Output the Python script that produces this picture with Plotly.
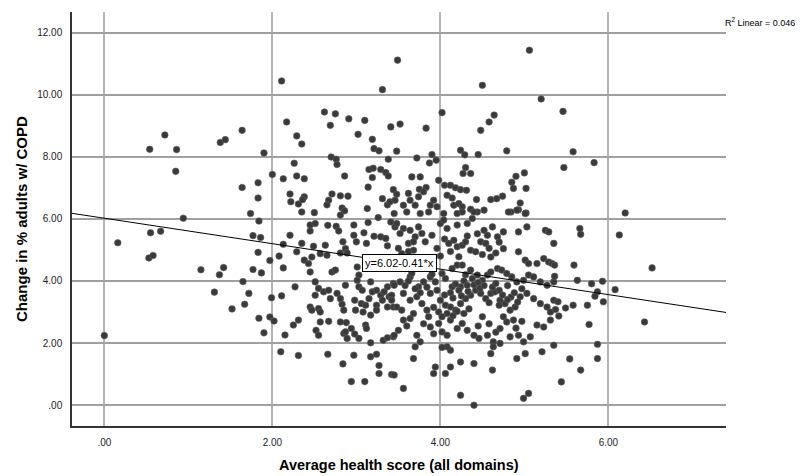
import plotly.graph_objects as go

# Scatter data: (average health score, change in % adults w/ COPD)
health_score = [
 0.72,0.54,0.86,0.85,1.38,1.44,
 2.11,3.31,2.62,2.75,2.91,3.10,2.17,2.69,1.64,3.41,3.02,2.29,2.35,3.19,1.90,3.21,3.27,2.70,2.76,2.77,3.38,2.26,3.15,3.20,3.29,3.35,3.38,2.00,2.86,1.64,1.83,2.13,2.29,2.38,3.19,3.14,1.83,2.21,2.22,2.31,2.38,2.36,2.71,2.67,2.65,2.81,2.90,2.83,2.86,3.13,3.31,3.37,3.40,3.44,1.74,2.35,2.50,
 3.49,5.06,4.50,5.20,4.02,3.52,3.83,4.64,4.58,4.48,3.48,3.72,3.90,3.95,3.87,4.24,4.29,4.45,4.79,4.30,4.27,4.36,3.66,3.76,3.98,3.83,3.75,4.05,4.12,4.18,4.24,4.31,5.00,4.90,4.85,4.87,5.02,4.43,4.60,4.67,4.74,4.95,4.84,4.93,5.02,
 3.48,3.46,3.56,3.62,3.64,3.70,3.74,3.80,3.88,3.92,3.96,4.08,4.14,4.16,4.22,4.26,4.36,4.44,
 5.46,5.58,5.47,5.83,6.20,
 0.94,0.55,0.67,0.16,0.53,0.58,1.15,1.42,1.37,1.31,1.52,0.00,
 1.84,1.77,1.86,1.83,1.97,2.08,2.13,2.21,1.77,1.87,2.13,1.65,1.72,1.67,1.99,2.11,1.84,1.97,2.02,1.90,2.15,2.27,2.25,2.31,2.10,2.31,2.66,2.84,2.94,3.10,
 2.45,2.51,2.45,2.66,2.76,2.79,2.97,3.14,2.81,3.26,3.41,3.46,2.97,3.00,3.09,3.12,3.21,3.29,3.35,3.37,
 2.35,2.49,2.63,2.65,2.29,2.38,2.43,2.45,2.47,2.57,2.84,2.87,2.81,2.89,2.71,2.75,3.01,3.03,3.01,2.87,3.03,3.07,3.17,
 2.51,2.55,2.61,2.67,2.69,2.77,2.81,2.51,2.45,2.47,2.55,2.57,2.57,2.67,2.52,2.55,2.83,2.85,2.81,2.88,2.85,2.89,2.87,2.94,2.98,3.03,
 2.98,2.99,3.06,3.08,3.11,3.12,2.97,3.17,3.24,3.27,3.27,3.42,3.44,3.32,3.37,3.17,
 3.19,3.24,3.29,3.33,3.37,3.39,3.42,3.44,3.31,3.24,3.37,3.44,3.15,3.11,3.17,3.24,
 3.45,3.60,3.76,3.86,4.04,4.20,4.26,4.40,4.52,4.81,4.91,5.01,
 3.48,3.56,3.52,3.64,3.70,3.74,3.78,3.82,3.90,4.00,4.04,4.08,4.20,4.32,4.38,4.52,4.56,4.62,4.68,4.75,4.93,5.03,5.25,5.29,5.35,
 4.10,4.16,4.20,4.26,4.30,4.36,4.42,4.48,4.54,4.60,4.75,4.93,5.01,5.05,5.15,5.23,5.29,3.62,3.68,3.54,3.60,3.68,
 3.88,3.94,4.02,4.06,4.14,4.20,4.26,4.38,4.44,4.50,4.56,4.60,4.68,4.73,4.79,4.85,4.91,4.99,5.05,5.11,5.19,5.27,5.35,4.32,4.24,4.14,3.80,3.74,3.52,3.45,3.64,
 4.00,4.06,4.12,4.18,4.24,4.30,4.36,4.42,4.48,4.54,4.60,4.65,4.71,4.77,4.83,4.89,4.95,5.03,5.11,5.19,5.27,5.31,5.35,3.56,3.64,3.72,3.78,3.84,3.88,3.96,3.48,3.42,3.54,
 4.08,4.12,4.20,4.26,4.32,4.40,4.46,3.88,3.98,4.02,4.08,3.64,3.56,3.50,3.45,3.72,3.76,3.70,4.56,4.63,4.71,4.79,4.87,4.93,4.99,5.07,5.15,5.23,5.31,5.35,4.83,
 4.12,4.08,4.02,3.94,3.92,4.06,4.12,4.24,4.40,4.60,4.63,4.71,4.62,4.91,5.01,5.21,3.68,3.45,3.56,4.24,4.40,4.99,5.05,
 5.66,5.67,6.13,5.33,5.36,5.59,6.52,5.36,5.63,5.80,5.93,6.08,5.87,5.84,5.94,5.40,5.37,5.41,5.49,5.58,5.75,5.77,6.43,5.87,5.54,5.87,5.67,5.44,
 # points inside the dense central blobs
 4.12,4.18,4.22,4.28,4.33,4.40,4.45,4.47,4.52,4.30,4.36,4.05,4.15,4.25,
 4.62,4.66,4.70,4.74,4.80,4.84,4.88,4.92,4.97,4.70,4.58,4.80,
 3.98,4.02,4.15,4.20,4.28,4.34,3.92,
 3.58,3.62,3.70,3.76,3.84,3.90,3.66,3.58,3.78,
 3.96,4.00,4.05,4.12,4.22,4.32,4.44,4.50,4.58,4.66,4.70,
 3.60,3.68,3.80,3.86,3.92,
 4.45,4.50,4.58,4.66,4.75,4.90,4.97,
 3.45,3.50,3.62,
]

copd_change = [
 8.70,8.24,8.23,7.53,8.46,8.55,
 10.44,10.16,9.44,9.38,9.22,9.17,9.12,9.01,8.85,8.96,8.72,8.67,8.41,8.56,8.12,8.26,8.19,7.99,7.92,7.75,7.92,7.79,7.59,7.63,7.59,7.49,7.38,7.43,7.38,7.01,7.16,7.29,7.38,7.29,7.33,7.02,6.67,6.80,6.55,6.48,6.71,6.62,6.80,6.60,6.45,6.74,6.73,6.35,6.26,6.33,6.65,6.45,6.55,6.94,6.17,6.22,6.20,
 11.11,11.43,10.30,9.86,9.42,9.05,8.92,9.34,9.12,8.85,8.18,7.96,8.07,7.89,7.80,8.21,8.06,8.07,8.19,7.65,7.46,7.46,7.35,7.35,7.24,7.01,6.95,7.08,7.08,7.00,6.94,6.92,7.48,7.37,7.18,6.98,6.98,6.62,6.62,6.65,6.73,6.51,6.22,6.29,6.19,
 6.79,6.60,6.44,6.82,6.60,6.44,6.71,6.87,6.44,6.60,6.39,6.76,6.67,6.44,6.49,6.39,6.31,6.22,
 9.46,8.16,7.65,7.81,6.19,
 6.02,5.55,5.60,5.23,4.74,4.82,4.36,4.43,4.20,3.64,3.10,2.24,
 5.93,5.46,5.40,4.92,4.66,4.80,5.18,5.47,4.37,4.26,4.42,3.98,3.60,3.25,3.46,3.52,2.80,2.84,2.71,2.33,2.26,3.81,2.58,2.74,1.72,1.60,1.64,1.33,0.76,0.76,
 5.80,5.85,5.61,5.79,5.76,5.61,5.80,5.88,6.12,6.04,5.90,5.74,5.47,5.26,5.55,5.21,5.44,5.42,5.37,5.13,
 5.21,5.12,5.15,4.83,4.94,4.67,4.56,4.29,4.77,4.88,5.26,5.04,4.90,4.90,4.29,4.35,4.45,4.19,4.02,3.86,3.81,3.70,3.97,
 3.97,3.76,3.65,3.70,3.43,3.60,3.43,3.54,3.16,3.06,3.11,3.00,2.68,2.70,2.41,2.25,3.25,3.06,2.68,2.66,2.31,2.15,2.36,2.47,2.29,2.15,
 3.38,3.06,3.27,3.00,2.58,2.47,1.61,1.56,1.64,1.28,1.02,0.99,2.20,2.09,2.17,2.01,
 3.65,3.70,3.54,3.65,3.81,3.49,3.54,3.92,3.38,3.22,3.16,3.16,3.43,3.22,2.90,3.06,
 6.17,6.22,6.17,6.22,6.17,6.17,6.22,6.22,6.28,6.22,6.28,6.17,
 5.85,5.69,5.53,5.63,5.42,5.74,5.53,5.26,5.47,5.85,5.96,5.69,5.80,5.85,6.01,5.63,5.47,5.74,5.42,5.58,5.58,5.74,5.63,5.58,5.21,
 5.21,5.31,5.10,5.15,5.26,4.99,4.94,5.26,5.21,4.77,5.04,4.94,4.67,4.56,4.56,4.72,4.61,5.21,5.26,4.88,4.72,4.99,
 4.13,3.97,4.24,4.08,4.40,4.51,4.51,4.08,4.19,4.02,4.19,4.29,4.40,4.35,4.24,4.13,3.97,4.02,4.19,4.13,3.97,3.86,3.97,3.86,3.81,3.81,3.97,3.81,3.97,3.86,4.13,
 3.38,3.22,3.16,3.06,3.27,3.43,3.54,3.70,3.60,3.43,3.60,3.65,3.38,3.27,3.06,3.16,3.49,3.60,3.43,3.27,3.16,3.00,3.38,3.60,3.38,3.49,3.27,3.06,3.60,3.70,3.16,3.38,3.06,
 2.95,2.74,2.47,2.63,2.41,2.25,2.15,2.52,2.63,2.36,2.25,2.79,2.74,2.41,2.25,2.25,2.04,1.88,2.25,2.04,2.47,2.68,2.74,2.25,2.04,2.20,2.58,2.52,2.74,1.93,2.20,
 1.77,1.88,1.86,1.23,1.02,1.02,1.23,1.39,1.34,1.66,1.88,1.99,1.13,1.50,1.66,1.72,1.50,0.97,0.54,0.32,0.00,0.22,0.38,
 5.69,5.50,5.48,4.56,4.51,4.51,4.42,4.15,4.02,3.91,3.99,3.72,3.65,3.51,3.33,3.33,3.08,2.87,3.13,3.22,3.22,2.60,2.68,1.96,1.49,1.50,1.13,0.75,
 # points inside the dense central blobs
 3.62,3.90,3.70,4.00,3.66,3.88,3.95,3.76,3.85,4.20,4.35,3.55,3.45,3.52,
 3.80,3.92,3.70,3.55,3.85,3.48,3.62,3.32,3.75,3.22,3.30,3.40,
 3.00,2.85,2.88,3.02,2.95,3.10,3.15,
 3.85,4.00,3.75,3.62,3.80,4.22,4.25,4.40,4.45,
 5.05,4.80,5.35,4.95,4.78,5.45,5.52,4.85,5.05,4.90,5.25,
 2.55,2.95,2.62,2.85,2.30,
 2.55,2.85,2.62,2.35,2.85,2.48,2.70,
 4.65,5.05,4.95,
]

x_ticks = [0, 2, 4, 6]
x_tick_labels = [".00", "2.00", "4.00", "6.00"]
y_ticks = [0, 2, 4, 6, 8, 10, 12]
y_tick_labels = [".00", "2.00", "4.00", "6.00", "8.00", "10.00", "12.00"]

fit_intercept = 6.02
fit_slope = -0.41
x_range = [-0.385, 7.40]
y_range = [-0.67, 12.66]

FONT = "Liberation Sans, Arial, sans-serif"

fig = go.Figure()
fig.add_trace(go.Scatter(
    x=health_score, y=copd_change, mode="markers",
    marker=dict(size=6.6, color="#3a3a3a", line=dict(color="#606060", width=0.6)),
    hoverinfo="skip", showlegend=False))

fit_x = x_range
fit_y = [fit_intercept + fit_slope * v for v in fit_x]
fig.add_trace(go.Scatter(x=fit_x, y=fit_y, mode="lines",
                         line=dict(color="#000000", width=1),
                         hoverinfo="skip", showlegend=False))

mid_x = (x_range[0] + x_range[1]) / 2
fig.add_annotation(x=mid_x, y=fit_intercept + fit_slope * mid_x, xref="x", yref="y",
                   text="y=6.02-0.41*x", showarrow=False,
                   font=dict(family=FONT, size=11, color="#000"),
                   bgcolor="#ffffff", bordercolor="#000000", borderwidth=1, borderpad=2)

# R² label, right edge near x=797 px
fig.add_annotation(x=(797 - 72) / 654, y=1.0, xref="paper", yref="paper",
                   xanchor="right", yanchor="top", yshift=-2,
                   text="R<sup>2</sup> Linear = 0.046", showarrow=False,
                   font=dict(family=FONT, size=9, color="#000"))

fig.add_annotation(x=0.5, y=0, xref="paper", yref="paper", yanchor="middle", yshift=-39,
                   text="<b>Average health score (all domains)</b>", showarrow=False,
                   font=dict(family=FONT, size=14.5, color="#000"))
fig.add_annotation(x=0, y=0.5, xref="paper", yref="paper", xanchor="center", xshift=-51,
                   text="<b>Change in % adults w/ COPD</b>", showarrow=False, textangle=-90,
                   font=dict(family=FONT, size=15, color="#000"))

fig.update_layout(
    width=810, height=476,
    margin=dict(l=72, r=84, t=12, b=50),
    paper_bgcolor="#ffffff", plot_bgcolor="#ffffff",
    font=dict(family=FONT, size=10, color="#222"),
)
fig.update_xaxes(range=x_range, tickvals=x_ticks, ticktext=x_tick_labels,
                 showgrid=True, gridcolor="#b4b4b4", gridwidth=2,
                 zeroline=False, showline=True, linecolor="#333", linewidth=1.5,
                 ticks="", ticklabelstandoff=6)
fig.update_yaxes(range=y_range, tickvals=y_ticks, ticktext=y_tick_labels,
                 showgrid=True, gridcolor="#a0a0a0", gridwidth=1.5,
                 zeroline=False, showline=True, linecolor="#333", linewidth=1.5,
                 ticks="", ticklabelstandoff=6)

fig.write_html("out.html", config={"displayModeBar": False},
               post_script="document.body.style.margin='0';document.body.style.overflow='hidden';")
